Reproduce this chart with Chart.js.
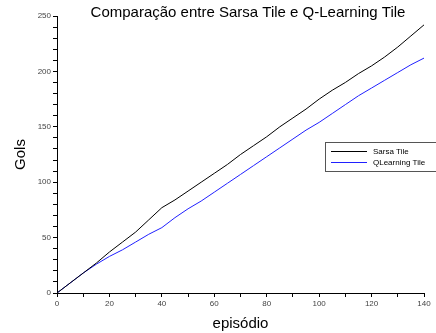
<!DOCTYPE html>
<html>
<head>
<meta charset="utf-8">
<script src="https://cdn.jsdelivr.net/npm/chart.js@4.4.0/dist/chart.umd.min.js"></script>
<style>
html,body{margin:0;padding:0;background:#fff;}
#wrap{width:436px;height:333px;position:relative;}
</style>
</head>
<body>
<div id="wrap"><canvas id="c" width="436" height="333"></canvas></div>
<script>
const titleText = "Comparação entre Sarsa Tile e Q-Learning Tile";
const xTitle = "episódio";
const yTitle = "Gols";
const seriesNames = ["Sarsa Tile", "QLearning Tile"];
const episodes = [0,5,10,15,20,25,30,35,40,45,50,55,60,65,70,75,80,85,90,95,100,105,110,115,120,125,130,135,140];
const sarsa = [0,9,18,27,37,46,55,66,77,84,92,100,108,116,125,133,141,150,158,166,175,183,190,198,205,213,222,232,242];
const qlearn = [0,9,18,26,33,39,46,53,59,68,76,83,91,99,107,115,123,131,139,147,154,162,170,178,185,192,199,206,212];
const xTicksMajor = [0,20,40,60,80,100,120,140];
const yTicksMajor = [0,50,100,150,200,250];

const font = "'Liberation Sans', Arial, sans-serif";

const toPts = (xs, ys) => xs.map((x, i) => ({x: x, y: ys[i]}));

const overlay = {
  id: 'overlay',
  afterDraw(chart) {
    const ctx = chart.ctx;
    ctx.save();
    // title
    ctx.fillStyle = '#000';
    ctx.font = "15px " + font;
    ctx.textAlign = 'center';
    ctx.textBaseline = 'middle';
    ctx.fillText(titleText, 248, 13);
    // legend
    const bx = 325.5, by = 142.5, bw = 120, bh = 29;
    ctx.strokeStyle = '#555';
    ctx.lineWidth = 1;
    ctx.strokeRect(bx, by, bw, bh);
    const colors = chart.data.datasets.map(d => d.borderColor);
    const ys = [151, 162];
    ctx.font = "8px " + font;
    ctx.textAlign = 'left';
    chart.data.datasets.forEach((d, i) => {
      ctx.strokeStyle = colors[i];
      ctx.beginPath();
      ctx.moveTo(331, ys[i] + 0.5);
      ctx.lineTo(367, ys[i] + 0.5);
      ctx.stroke();
      ctx.fillStyle = '#000';
      ctx.fillText(d.label, 373, ys[i] + 0.5);
    });
    ctx.restore();
  }
};

new Chart(document.getElementById('c'), {
  type: 'line',
  data: {
    datasets: [
      {label: seriesNames[0], data: toPts(episodes, sarsa), borderColor: '#000000', borderWidth: 1, pointRadius: 0, tension: 0, fill: false},
      {label: seriesNames[1], data: toPts(episodes, qlearn), borderColor: '#2020ff', borderWidth: 1, pointRadius: 0, tension: 0, fill: false}
    ]
  },
  options: {
    responsive: false,
    animation: false,
    events: [],
    layout: {padding: {top: 16, right: 12, left: 0, bottom: 0}},
    plugins: {legend: {display: false}, title: {display: false}, tooltip: {enabled: false}},
    scales: {
      x: {
        type: 'linear', min: 0, max: 140,
        afterBuildTicks(s) { s.ticks = []; for (let v = 0; v <= 140; v += 10) s.ticks.push({value: v}); },
        afterFit(s) { s.height = 40; },
        border: {display: true, color: '#000', width: 1},
        grid: {drawOnChartArea: false, drawTicks: true, tickLength: 4, color: '#000'},
        ticks: {font: {size: 8, family: font}, color: '#444', padding: 2, maxRotation: 0, autoSkip: false,
          callback: v => xTicksMajor.includes(v) ? String(v) : ''},
        title: {display: true, text: xTitle, font: {size: 15, family: font}, color: '#000', padding: {top: 1, bottom: 0}}
      },
      y: {
        type: 'linear', min: 0, max: 250,
        afterBuildTicks(s) { s.ticks = []; for (let v = 0; v <= 250; v += 10) s.ticks.push({value: v}); },
        afterFit(s) { s.width = 57; },
        border: {display: true, color: '#000', width: 1},
        grid: {drawOnChartArea: false, drawTicks: true, tickLength: 4, color: '#000'},
        ticks: {font: {size: 8, family: font}, color: '#444', padding: 2, autoSkip: false,
          callback: v => yTicksMajor.includes(v) ? String(v) : ''},
        title: {display: true, text: yTitle, font: {size: 15, family: font}, color: '#000', padding: {top: 12, bottom: 0}}
      }
    }
  },
  plugins: [overlay]
});
</script>
</body>
</html>
